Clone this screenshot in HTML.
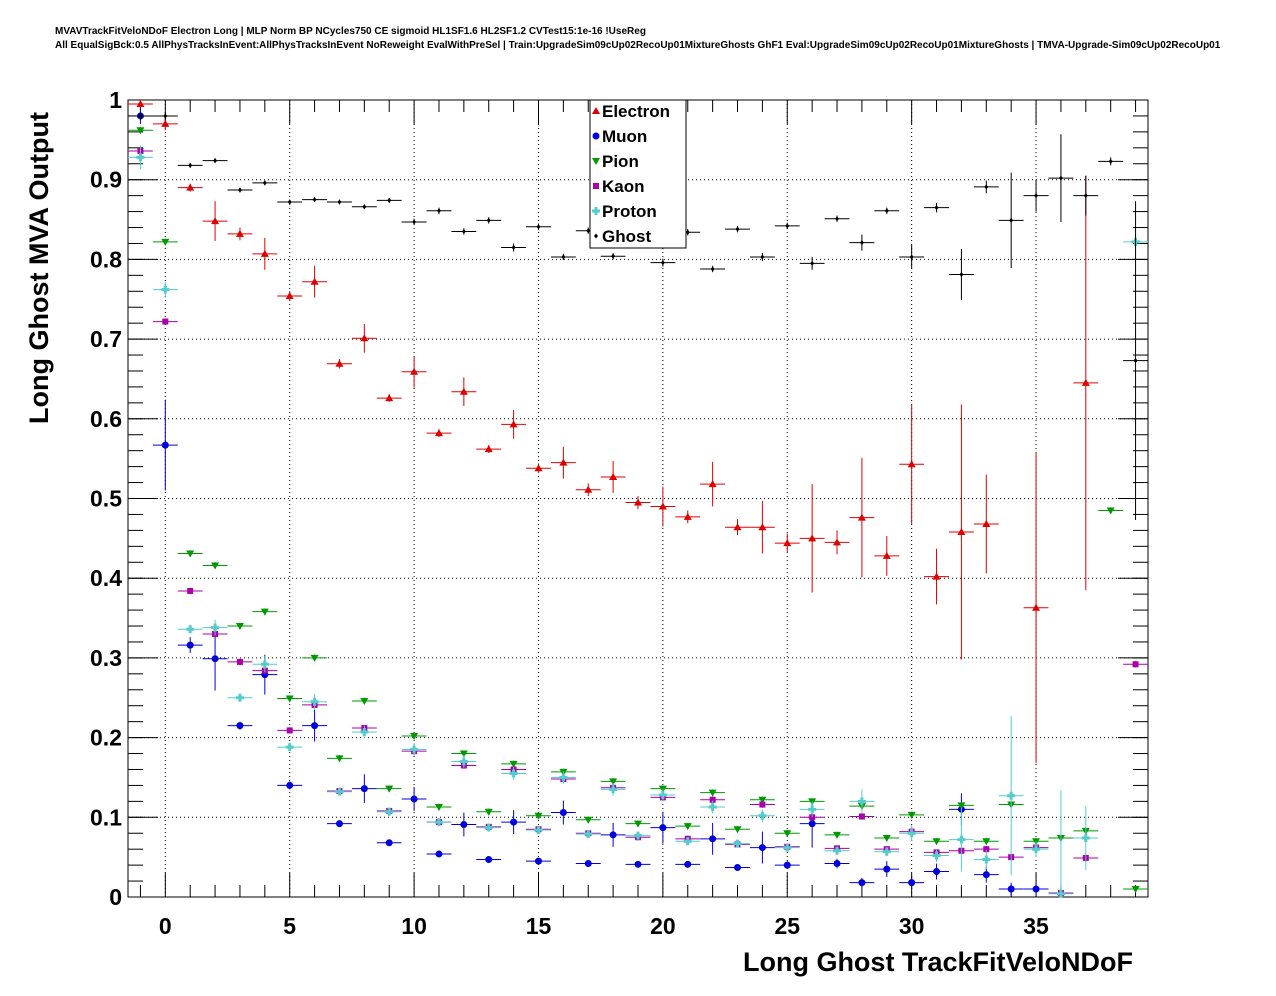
<!DOCTYPE html>
<html><head><meta charset="utf-8"><style>
body{margin:0;background:#fff;}
svg{display:block;font-family:"Liberation Sans",sans-serif;}
</style></head><body>
<svg id="c" width="1276" height="996">
<rect width="1276" height="996" fill="#fff"/>
<text x="55" y="34" font-size="10" font-weight="bold">MVAVTrackFitVeloNDoF Electron Long | MLP Norm BP NCycles750 CE sigmoid HL1SF1.6 HL2SF1.2 CVTest15:1e-16 !UseReg</text>
<text x="55" y="48" font-size="10" font-weight="bold">All EqualSigBck:0.5 AllPhysTracksInEvent:AllPhysTracksInEvent NoReweight EvalWithPreSel | Train:UpgradeSim09cUp02RecoUp01MixtureGhosts GhF1 Eval:UpgradeSim09cUp02RecoUp01MixtureGhosts | TMVA-Upgrade-Sim09cUp02RecoUp01</text>
<text transform="translate(48,268) rotate(-90)" text-anchor="middle" font-size="27" font-weight="bold">Long Ghost MVA Output</text>
<text x="1133" y="971" text-anchor="end" font-size="27" font-weight="bold">Long Ghost TrackFitVeloNDoF</text>
<g id="grid"></g><g id="ticks"></g><g id="marks"></g><g id="legend"></g>
</svg>
<script>
const bins=[-1,0,1,2,3,4,5,6,7,8,9,10,11,12,13,14,15,16,17,18,19,20,21,22,23,24,25,26,27,28,29,30,31,32,33,34,35,36,37,38,39];
const electron=[0.995,0.97,0.89,0.848,0.832,0.807,0.754,0.772,0.669,0.701,0.626,0.659,0.582,0.634,0.562,0.593,0.538,0.545,0.511,0.527,0.495,0.49,0.477,0.518,0.464,0.464,0.444,0.45,0.445,0.476,0.428,0.543,0.402,0.458,0.468,null,0.363,null,0.645,null,null];
const electronErr=[0.005,0.008,0.005,0.025,0.008,0.02,0.006,0.02,0.006,0.018,0.005,0.02,0.005,0.018,0.005,0.018,0.006,0.02,0.008,0.02,0.008,0.025,0.008,0.028,0.01,0.033,0.012,0.068,0.015,0.075,0.025,0.075,0.035,0.16,0.062,0,0.195,0,0.26,0,0];
const muon=[0.98,0.567,0.316,0.299,0.215,0.279,0.14,0.215,0.092,0.136,0.068,0.123,0.054,0.091,0.047,0.094,0.045,0.106,0.042,0.078,0.041,0.087,0.041,0.073,0.037,0.062,0.04,0.092,0.042,0.018,0.035,0.018,0.032,0.11,0.028,0.01,0.01,null,null,null,null];
const muonErr=[0.01,0.057,0.01,0.04,0.005,0.025,0.005,0.02,0.004,0.018,0.004,0.015,0.004,0.015,0.004,0.015,0.004,0.015,0.004,0.015,0.004,0.02,0.004,0.02,0.004,0.02,0.005,0.03,0.006,0.006,0.01,0.008,0.01,0.02,0.01,0.008,0.008,0,0,0,0];
const pion=[0.962,0.822,0.431,0.416,0.34,0.358,0.249,0.3,0.174,0.246,0.136,0.202,0.113,0.18,0.107,0.167,0.102,0.157,0.097,0.145,0.092,0.136,0.089,0.131,0.085,0.122,0.08,0.12,0.078,0.114,0.074,0.103,0.07,0.115,0.07,0.116,0.07,0.074,0.083,0.485,0.01];
const kaon=[0.936,0.722,0.384,0.33,0.295,0.284,0.209,0.241,0.133,0.212,0.108,0.183,0.094,0.165,0.088,0.16,0.085,0.148,0.08,0.137,0.075,0.125,0.073,0.122,0.066,0.116,0.063,0.1,0.061,0.101,0.06,0.082,0.056,0.058,0.06,0.05,0.062,0.005,0.049,null,0.292];
const proton=[0.928,0.762,0.336,0.338,0.25,0.292,0.188,0.245,0.132,0.207,0.107,0.185,0.094,0.17,0.087,0.155,0.084,0.15,0.079,0.135,0.077,0.128,0.07,0.113,0.067,0.102,0.062,0.11,0.058,0.12,0.057,0.08,0.052,0.072,0.047,0.127,0.06,0.004,0.074,null,0.822];
const protonErr=[0.015,0.01,0.005,0.01,0.004,0.01,0.004,0.01,0.003,0.008,0.003,0.008,0.003,0.008,0.003,0.008,0.003,0.008,0.003,0.008,0.003,0.008,0.003,0.008,0.004,0.008,0.004,0.01,0.005,0.015,0.006,0.01,0.008,0.04,0.012,0.1,0.01,0.13,0.04,0,0.01];
const ghost=[0.98,0.98,0.918,0.924,0.887,0.896,0.872,0.875,0.872,0.866,0.874,0.847,0.861,0.835,0.849,0.815,0.841,0.803,0.836,0.804,0.83,0.796,0.834,0.788,0.838,0.803,0.842,0.795,0.851,0.821,0.861,0.803,0.865,0.781,0.891,0.849,0.88,0.902,0.88,0.923,0.673];
const ghostErr=[0.005,0.005,0.003,0.003,0.003,0.003,0.003,0.003,0.003,0.003,0.003,0.004,0.004,0.004,0.004,0.005,0.004,0.004,0.004,0.004,0.004,0.005,0.004,0.004,0.004,0.005,0.004,0.008,0.004,0.01,0.004,0.015,0.006,0.032,0.008,0.06,0.02,0.055,0.025,0.005,0.2];
const xTicks=[0,5,10,15,20,25,30,35];
const yTicks=[0,0.1,0.2,0.3,0.4,0.5,0.6,0.7,0.8,0.9,1];
const yTickLabels=["0","0.1","0.2","0.3","0.4","0.5","0.6","0.7","0.8","0.9","1"];

const L=128,R=1148,T=100,B=897,xmin=-1.5,xmax=39.5;
const X=v=>L+(v-xmin)/(xmax-xmin)*(R-L);
const Y=v=>B-v*(B-T);
const NS="http://www.w3.org/2000/svg";
function mk(parent,tag,attrs){const e=document.createElementNS(NS,tag);for(const k in attrs)e.setAttribute(k,attrs[k]);parent.appendChild(e);return e;}
const grid=document.getElementById('grid'),ticks=document.getElementById('ticks'),marks=document.getElementById('marks'),leg=document.getElementById('legend');
let fr=mk(grid,'rect',{x:L,y:T,width:R-L,height:B-T,fill:'none',stroke:'#000','stroke-width':1});


xTicks.forEach(t=>{
 let g=mk(grid,'line',{x1:X(t),x2:X(t),y1:T,y2:B,stroke:'#000','stroke-dasharray':'1,3','stroke-width':1});
 
 
 mk(ticks,'line',{x1:X(t),x2:X(t),y1:B,y2:B-24,stroke:'#000'});
 mk(ticks,'line',{x1:X(t),x2:X(t),y1:T,y2:T+24,stroke:'#000'});
 let tx=mk(ticks,'text',{x:X(t),y:B+37,'text-anchor':'middle','font-size':23,'font-weight':'bold'});tx.textContent=t;
 
 
});
for(let v=-1;v<=39;v++){if(v%5){mk(ticks,'line',{x1:X(v),x2:X(v),y1:B,y2:B-12,stroke:'#000'});mk(ticks,'line',{x1:X(v),x2:X(v),y1:T,y2:T+12,stroke:'#000'});}}
yTicks.forEach((t,i)=>{
 if(t>0&&t<1){let g=mk(grid,'line',{x1:L,x2:R,y1:Y(t),y2:Y(t),stroke:'#000','stroke-dasharray':'1,3','stroke-width':1});
 
 }
 mk(ticks,'line',{x1:L,x2:L+30,y1:Y(t),y2:Y(t),stroke:'#000'});
 mk(ticks,'line',{x1:R,x2:R-30,y1:Y(t),y2:Y(t),stroke:'#000'});
 let tx=mk(ticks,'text',{x:L-6,y:Y(t)+8,'text-anchor':'end','font-size':23,'font-weight':'bold'});tx.textContent=yTickLabels[i];
 
 
});
for(let v=0;v<1;v+=0.02){mk(ticks,'line',{x1:L,x2:L+15,y1:Y(v),y2:Y(v),stroke:'#000'});mk(ticks,'line',{x1:R,x2:R-15,y1:Y(v),y2:Y(v),stroke:'#000'});}

function marker(g,type,cx,cy,col){
 if(type==='tri')return mk(g,'polygon',{points:`${cx},${cy-4} ${cx-4},${cy+3} ${cx+4},${cy+3}`,fill:col});
 if(type==='dtri')return mk(g,'polygon',{points:`${cx},${cy+4} ${cx-4},${cy-3} ${cx+4},${cy-3}`,fill:col});
 if(type==='circ')return mk(g,'circle',{cx:cx,cy:cy,r:3.5,fill:col});
 if(type==='sq')return mk(g,'rect',{x:cx-3,y:cy-3,width:6,height:6,fill:col});
 if(type==='cross')return mk(g,'path',{d:`M${cx-4},${cy}H${cx+4}M${cx},${cy-4}V${cy+4}`,stroke:col,'stroke-width':3});
 if(type==='dia')return mk(g,'polygon',{points:`${cx},${cy-2.5} ${cx+2},${cy} ${cx},${cy+2.5} ${cx-2},${cy}`,fill:col});
}
const series=[
 ['electron','Electron',electron,electronErr,'#e00000','tri'],
 ['muon','Muon',muon,muonErr,'#0000dd','circ'],
 ['pion','Pion',pion,null,'#009900','dtri'],
 ['kaon','Kaon',kaon,null,'#aa00aa','sq'],
 ['proton','Proton',proton,protonErr,'#55cccc','cross'],
 ['ghost','Ghost',ghost,ghostErr,'#000','dia']];
series.forEach(([id,name,vals,errs,col,type])=>{
 const g=mk(marks,'g',{});
 
 
 vals.forEach((v,i)=>{
  if(v===null)return;
  const b=bins[i],cx=X(b),cy=Y(v),e=errs?errs[i]:0.004;
  mk(g,'line',{x1:X(b-0.5),x2:X(b+0.5),y1:cy,y2:cy,stroke:col,'stroke-width':1});
  mk(g,'line',{x1:cx,x2:cx,y1:Y(Math.min(1,v+e)),y2:Y(Math.max(0,v-e)),stroke:col,'stroke-width':1});
  const m=marker(g,type,cx,cy,col);
  
  
 });
});
const lb=mk(leg,'rect',{x:590,y:100,width:96,height:148,fill:'#fff',stroke:'#000'});


series.forEach(([id,name,,,col,type],i)=>{
 const y=111+i*25;
 const g=mk(leg,'g',{});
 
 
 marker(g,type,596,y,col);
 const t=mk(g,'text',{x:602,y:y+6,'font-size':17,'font-weight':'bold'});t.textContent=name;
});
</script>
</body></html>
